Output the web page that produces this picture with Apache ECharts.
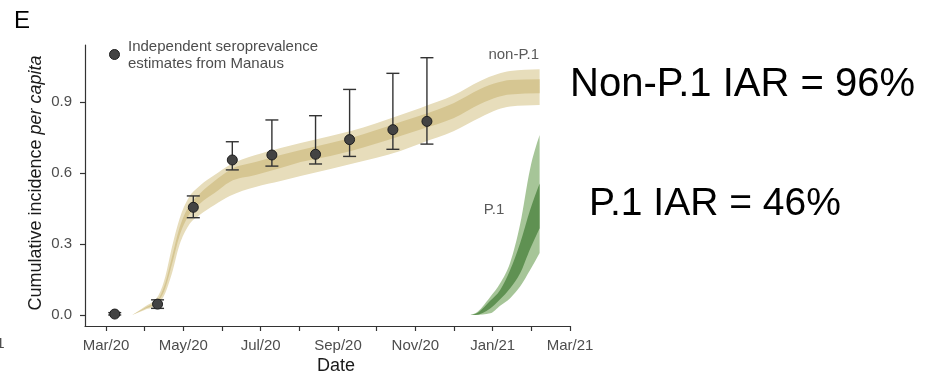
<!DOCTYPE html>
<html>
<head>
<meta charset="utf-8">
<script src="https://cdn.jsdelivr.net/npm/echarts@6/dist/echarts.min.js"></script>
<style>
  html, body { margin: 0; padding: 0; background: #fff; }
  #chart { width: 930px; height: 375px; }
</style>
</head>
<body>
<div id="chart"></div>
<script>
// Date axis labels (one every two months)
const tickLabels = ['Mar/20', 'May/20', 'Jul/20', 'Sep/20', 'Nov/20', 'Jan/21', 'Mar/21'];
const yTicks = [0, 0.3, 0.6, 0.9];

// Non-P.1 cumulative incidence: 95% and 50% credible bands
const nonP1Dates   = ['2020-03-22', '2020-04-01', '2020-04-11', '2020-04-17', '2020-04-22', '2020-04-28',
                      '2020-05-05', '2020-05-14', '2020-05-26', '2020-06-07', '2020-06-27', '2020-07-17',
                      '2020-08-02', '2020-08-26', '2020-09-11', '2020-10-20', '2020-11-05', '2020-12-01',
                      '2020-12-22', '2021-01-05', '2021-01-15', '2021-02-07'];
const nonP1OuterLo = [0, 0.021, 0.044, 0.093, 0.173, 0.296, 0.376, 0.422, 0.465, 0.503, 0.541, 0.566,
                      0.587, 0.617, 0.638, 0.693, 0.725, 0.777, 0.834, 0.868, 0.881, 0.887];
const nonP1InnerLo = [0, 0.025, 0.055, 0.114, 0.211, 0.334, 0.418, 0.469, 0.515, 0.562, 0.591, 0.621,
                      0.646, 0.672, 0.693, 0.756, 0.784, 0.832, 0.891, 0.921, 0.932, 0.937];
const nonP1InnerHi = [0, 0.030, 0.063, 0.135, 0.241, 0.368, 0.456, 0.511, 0.566, 0.613, 0.646, 0.676,
                      0.697, 0.727, 0.748, 0.815, 0.843, 0.896, 0.955, 0.982, 0.993, 0.996];
const nonP1OuterHi = [0, 0.035, 0.077, 0.162, 0.283, 0.406, 0.493, 0.545, 0.591, 0.634, 0.676, 0.706,
                      0.727, 0.756, 0.777, 0.845, 0.875, 0.929, 0.989, 1.018, 1.031, 1.038];

// P.1 cumulative incidence: 95% and 50% credible bands
const p1Dates   = ['2020-12-14', '2020-12-18', '2020-12-30', '2021-01-07', '2021-01-15', '2021-01-23', '2021-01-31', '2021-02-07'];
const p1OuterLo = [0, 0,     0.007, 0.039, 0.071, 0.120, 0.190, 0.262];
const p1InnerLo = [0, 0,     0.027, 0.066, 0.113, 0.176, 0.279, 0.367];
const p1InnerHi = [0, 0.004, 0.060, 0.106, 0.190, 0.303, 0.444, 0.556];
const p1OuterHi = [0, 0.007, 0.076, 0.134, 0.221, 0.383, 0.617, 0.760];

// Independent seroprevalence estimates from Manaus (mean with interval)
const seroDates = ['2020-03-08', '2020-04-11', '2020-05-09', '2020-06-09', '2020-07-10',
                   '2020-08-14', '2020-09-10', '2020-10-14', '2020-11-10'];
const seroMean  = [0.004, 0.046, 0.455, 0.655, 0.676, 0.679, 0.741, 0.783, 0.818];
const seroLow   = [0.000, 0.028, 0.411, 0.613, 0.629, 0.638, 0.670, 0.700, 0.722];
const seroHigh  = [0.010, 0.064, 0.503, 0.732, 0.824, 0.842, 0.953, 1.021, 1.087];

// Months elapsed since 1 March 2020 (fractional, by day of month)
function monthIndex(s) {
  const [y, m, d] = s.split('-').map(Number);
  const daysInMonth = new Date(y, m, 0).getDate();
  return (y - 2020) * 12 + (m - 3) + (d - 1) / daysInMonth;
}

// Monotone cubic (x-monotone) Bezier control points through pixel points
function monotoneControls(pts) {
  const n = pts.length;
  const h = [], s = [], t = new Array(n);
  for (let i = 0; i < n - 1; i++) {
    h[i] = pts[i + 1][0] - pts[i][0];
    s[i] = h[i] ? (pts[i + 1][1] - pts[i][1]) / h[i] : 0;
  }
  for (let i = 1; i < n - 1; i++) {
    const p = (s[i - 1] * h[i] + s[i] * h[i - 1]) / (h[i - 1] + h[i]);
    t[i] = (Math.sign(s[i - 1]) + Math.sign(s[i])) *
           Math.min(Math.abs(s[i - 1]), Math.abs(s[i]), 0.5 * Math.abs(p)) || 0;
  }
  t[0] = n > 2 ? (3 * s[0] - t[1]) / 2 : s[0];
  t[n - 1] = n > 2 ? (3 * s[n - 2] - t[n - 2]) / 2 : s[n - 2];
  const segs = [];
  for (let i = 0; i < n - 1; i++) {
    const d = h[i] / 3;
    segs.push([[pts[i][0] + d, pts[i][1] + t[i] * d], [pts[i + 1][0] - d, pts[i + 1][1] - t[i + 1] * d]]);
  }
  return segs;
}

function f(v) { return v.toFixed(2); }

// One filled band (between lo and hi) as a custom series drawn in a single path
function bandSeries(id, dates, lo, hi, color, z) {
  const xs = dates.map(monthIndex);
  return {
    type: 'custom', name: id, z: z, silent: true, clip: true,
    data: xs.map((x, i) => [x, lo[i], hi[i]]),
    encode: { x: 0, y: [1, 2] },
    renderItem: function (params, api) {
      if (params.dataIndex !== 0) return null;
      const upper = xs.map((x, i) => api.coord([x, hi[i]]));
      const lower = xs.map((x, i) => api.coord([x, lo[i]]));
      const cu = monotoneControls(upper);
      const cl = monotoneControls(lower);
      let d = 'M' + f(upper[0][0]) + ',' + f(upper[0][1]);
      for (let i = 0; i < cu.length; i++) {
        d += 'C' + f(cu[i][0][0]) + ',' + f(cu[i][0][1]) + ' ' + f(cu[i][1][0]) + ',' + f(cu[i][1][1]) +
             ' ' + f(upper[i + 1][0]) + ',' + f(upper[i + 1][1]);
      }
      const last = lower.length - 1;
      d += 'L' + f(lower[last][0]) + ',' + f(lower[last][1]);
      for (let i = cl.length - 1; i >= 0; i--) {
        d += 'C' + f(cl[i][1][0]) + ',' + f(cl[i][1][1]) + ' ' + f(cl[i][0][0]) + ',' + f(cl[i][0][1]) +
             ' ' + f(lower[i][0]) + ',' + f(lower[i][1]);
      }
      d += 'Z';
      return { type: 'path', shape: { pathData: d }, style: { fill: color, stroke: null } };
    }
  };
}

const chart = echarts.init(document.getElementById('chart'), null, { renderer: 'canvas' });

const axisColor = '#333333';
const labelColor = '#4d4d4d';
const font = 'Liberation Sans, Arial, Helvetica, sans-serif';

const option = {
  backgroundColor: '#ffffff',
  animation: false,
  grid: { left: 85, right: 360, top: 45, bottom: 49, containLabel: false },
  xAxis: {
    type: 'value', min: -0.543, max: 12, z: 20,
    axisLine: { show: true, onZero: false, lineStyle: { color: axisColor, width: 1.2 } },
    axisTick: { show: true, length: 5, customValues: [0,1,2,3,4,5,6,7,8,9,10,11,12],
                lineStyle: { color: axisColor, width: 1.2 } },
    axisLabel: { customValues: [0, 2, 4, 6, 8, 10, 12], margin: 12, color: labelColor,
                 fontSize: 15, fontFamily: font,
                 formatter: v => tickLabels[Math.round(v / 2)] },
    splitLine: { show: false }
  },
  yAxis: {
    type: 'value', min: -0.0465, max: 1.1407, z: 20,
    axisLine: { show: true, onZero: false, lineStyle: { color: axisColor, width: 1.2 } },
    axisTick: { show: true, length: 5, customValues: yTicks, lineStyle: { color: axisColor, width: 1.2 } },
    axisLabel: { customValues: yTicks, margin: 13, color: labelColor, fontSize: 15, fontFamily: font,
                 formatter: v => v.toFixed(1) },
    splitLine: { show: false }
  },
  series: [
    bandSeries('non-P.1 95%', nonP1Dates, nonP1OuterLo, nonP1OuterHi, '#e7ddbb', 2),
    bandSeries('non-P.1 50%', nonP1Dates, nonP1InnerLo, nonP1InnerHi, '#d6c692', 3),
    bandSeries('P.1 95%', p1Dates, p1OuterLo, p1OuterHi, '#a6c598', 2),
    bandSeries('P.1 50%', p1Dates, p1InnerLo, p1InnerHi, '#5f9152', 3),
    {
      type: 'custom', name: 'interval', z: 15, silent: true,
      data: seroDates.map((d, i) => [monthIndex(d), seroLow[i], seroHigh[i]]),
      encode: { x: 0, y: [1, 2] },
      renderItem: function (params, api) {
        const x = api.value(0);
        const lo = api.coord([x, api.value(1)]);
        const hi = api.coord([x, api.value(2)]);
        const w = 6.5;
        const st = { stroke: '#333333', lineWidth: 1.4 };
        return {
          type: 'group',
          children: [
            { type: 'line', shape: { x1: lo[0], y1: lo[1], x2: hi[0], y2: hi[1] }, style: st },
            { type: 'line', shape: { x1: lo[0] - w, y1: lo[1], x2: lo[0] + w, y2: lo[1] }, style: st },
            { type: 'line', shape: { x1: hi[0] - w, y1: hi[1], x2: hi[0] + w, y2: hi[1] }, style: st }
          ]
        };
      }
    },
    {
      type: 'scatter', name: 'Independent seroprevalence estimates from Manaus', z: 16, silent: true,
      data: seroDates.map((d, i) => [monthIndex(d), seroMean[i]]),
      symbol: 'circle', symbolSize: 10,
      itemStyle: { color: '#434343', borderColor: '#1e1e1e', borderWidth: 1, opacity: 1 }
    }
  ],
  graphic: [
    { type: 'text', left: 14, top: 9,
      style: { text: 'E', fontSize: 24, fontFamily: font, fill: '#000' } },
    { type: 'text', x: 36, y: 183, rotation: Math.PI / 2,
      style: { text: '{a|Cumulative incidence }{b|per capita}', align: 'center', verticalAlign: 'middle',
               rich: { a: { fontSize: 18, fontFamily: font, fill: '#1a1a1a' },
                       b: { fontSize: 18, fontFamily: font, fill: '#1a1a1a', fontStyle: 'italic' } } } },
    { type: 'text', x: 336, y: 366,
      style: { text: 'Date', fontSize: 18, fontFamily: font, fill: '#1a1a1a', align: 'center', verticalAlign: 'middle' } },
    { type: 'circle', shape: { cx: 114.5, cy: 54.5, r: 5 },
      style: { fill: '#434343', stroke: '#1e1e1e', lineWidth: 1 } },
    { type: 'text', x: 128, y: 47,
      style: { text: 'Independent seroprevalence', fontSize: 15, fontFamily: font, fill: labelColor, verticalAlign: 'middle' } },
    { type: 'text', x: 128, y: 63.5,
      style: { text: 'estimates from Manaus', fontSize: 15, fontFamily: font, fill: labelColor, verticalAlign: 'middle' } },
    { type: 'text', x: 539, y: 55,
      style: { text: 'non-P.1', fontSize: 15, fontFamily: font, fill: '#5a5a5a', align: 'right', verticalAlign: 'middle' } },
    { type: 'text', x: 494, y: 210,
      style: { text: 'P.1', fontSize: 15, fontFamily: font, fill: '#5a5a5a', align: 'center', verticalAlign: 'middle' } },
    { type: 'text', x: 570, y: 85,
      style: { text: 'Non-P.1 IAR = 96%', fontSize: 40, fontFamily: font, fill: '#000', verticalAlign: 'middle' } },
    { type: 'text', x: 589, y: 204,
      style: { text: 'P.1 IAR = 46%', fontSize: 39, fontFamily: font, fill: '#000', verticalAlign: 'middle' } },
    { type: 'text', x: 4.5, y: 344,
      style: { text: '1', fontSize: 15, fontFamily: font, fill: labelColor, align: 'right', verticalAlign: 'middle' } }
  ]
};

chart.setOption(option);
</script>
</body>
</html>
